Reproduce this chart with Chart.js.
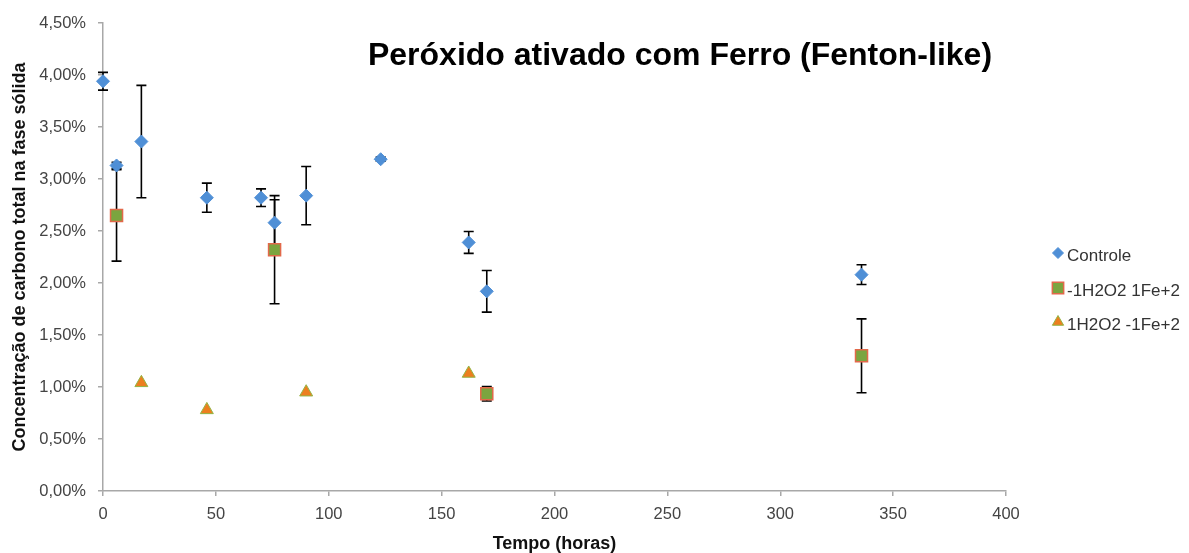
<!DOCTYPE html>
<html>
<head>
<meta charset="utf-8">
<title>Peróxido ativado com Ferro (Fenton-like)</title>
<script src="https://cdn.jsdelivr.net/npm/chart.js@4/dist/chart.umd.min.js"></script>
<style>
  html, body { margin: 0; padding: 0; background: #ffffff; }
  #wrap { width: 1189px; height: 553px; }
</style>
</head>
<body>
<div id="wrap"><canvas id="chart" width="1189" height="553"></canvas></div>
<script>
// Axis ticks
const xTickValues = [0, 50, 100, 150, 200, 250, 300, 350, 400];
const yTickValues = [0, 0.5, 1, 1.5, 2, 2.5, 3, 3.5, 4, 4.5];

// Controle
const controleHoras = [0, 6, 17, 46, 70, 76, 90, 123, 162, 170, 336];
const controleCarbono = [3.94, 3.13, 3.36, 2.82, 2.82, 2.58, 2.84, 3.19, 2.39, 1.92, 2.08];
const controleErro = [0.085, 0.03, 0.54, 0.14, 0.085, 0.22, 0.28, 0.02, 0.105, 0.20, 0.095];

// -1H2O2 1Fe+2
const ferroHoras = [6, 76, 170, 336];
const ferroCarbono = [2.65, 2.32, 0.935, 1.30];
const ferroErro = [0.44, 0.52, 0.07, 0.355];

// 1H2O2 -1Fe+2
const peroxidoHoras = [17, 46, 90, 162];
const peroxidoCarbono = [1.04, 0.78, 0.95, 1.13];

const FONT = '"Liberation Sans", Arial, Helvetica, sans-serif';

const pts = (xs, ys) => xs.map((x, i) => ({ x: x, y: ys[i] }));

// Vertical error bars with caps, drawn underneath the markers
const errorBars = {
  id: 'errorBars',
  beforeDatasetsDraw(chart) {
    const { ctx, scales: { x, y } } = chart;
    ctx.save();
    ctx.strokeStyle = '#000000';
    ctx.lineWidth = 1.6;
    chart.data.datasets.forEach(ds => {
      if (!ds.errors) return;
      ds.data.forEach((p, i) => {
        const e = ds.errors[i];
        if (!e) return;
        const px = x.getPixelForValue(p.x);
        const top = y.getPixelForValue(p.y + e);
        const bot = y.getPixelForValue(p.y - e);
        ctx.beginPath();
        ctx.moveTo(px, top); ctx.lineTo(px, bot);
        ctx.moveTo(px - 5, top); ctx.lineTo(px + 5, top);
        ctx.moveTo(px - 5, bot); ctx.lineTo(px + 5, bot);
        ctx.stroke();
      });
    });
    ctx.restore();
  }
};

// Chart title inside the plot area and the legend on the right
const decorations = {
  id: 'decorations',
  afterDraw(chart) {
    const ctx = chart.ctx;
    ctx.save();
    ctx.fillStyle = '#000000';
    ctx.font = 'bold 32px ' + FONT;
    ctx.textAlign = 'center';
    ctx.textBaseline = 'alphabetic';
    ctx.fillText('Peróxido ativado com Ferro (Fenton-like)', 680, 65);

    const rowY = [256, 291, 325];
    chart.data.datasets.forEach((ds, i) => {
      const y = rowY[i];
      ctx.fillStyle = ds.backgroundColor;
      ctx.strokeStyle = ds.borderColor;
      ctx.lineWidth = ds.borderWidth;
      Chart.helpers.drawPoint(ctx, {
        pointStyle: ds.pointStyle,
        radius: ds.legendRadius,
        borderWidth: ds.borderWidth,
        rotation: 0
      }, 1058, y - 3);
      ctx.fillStyle = '#333333';
      ctx.font = '17px ' + FONT;
      ctx.textAlign = 'left';
      ctx.textBaseline = 'middle';
      ctx.fillText(ds.label, 1067, y);
    });
    ctx.restore();
  }
};

const axisGray = '#a8a8a8';

new Chart(document.getElementById('chart'), {
  type: 'scatter',
  data: {
    datasets: [
      {
        label: 'Controle',
        data: pts(controleHoras, controleCarbono),
        errors: controleErro,
        pointStyle: 'rectRot',
        pointRadius: 6.5,
        legendRadius: 5.5,
        backgroundColor: '#4f8fd6',
        borderColor: '#4f8fd6',
        borderWidth: 1,
        clip: false
      },
      {
        label: '-1H2O2 1Fe+2',
        data: pts(ferroHoras, ferroCarbono),
        errors: ferroErro,
        pointStyle: 'rect',
        pointRadius: 8.5,
        legendRadius: 8,
        backgroundColor: '#7ba53f',
        borderColor: '#e2694a',
        borderWidth: 1.5,
        clip: false
      },
      {
        label: '1H2O2 -1Fe+2',
        data: pts(peroxidoHoras, peroxidoCarbono),
        pointStyle: 'triangle',
        pointRadius: 7.5,
        legendRadius: 6.5,
        backgroundColor: '#ec7f1f',
        borderColor: '#93b444',
        borderWidth: 1,
        clip: false
      }
    ]
  },
  options: {
    responsive: false,
    animation: false,
    devicePixelRatio: 1,
    events: [],
    layout: { padding: { top: 23, right: 183, left: 0, bottom: 0 } },
    plugins: {
      legend: { display: false },
      tooltip: { enabled: false },
      title: { display: false }
    },
    scales: {
      x: {
        type: 'linear',
        min: 0,
        max: 400,
        afterBuildTicks(scale) { scale.ticks = xTickValues.map(v => ({ value: v })); },
        afterFit(scale) { scale.height = 62; },
        grid: { drawOnChartArea: false, drawTicks: true, tickLength: 5, color: axisGray, lineWidth: 1.5 },
        border: { color: axisGray, width: 1.5 },
        ticks: {
          padding: 9, color: '#444444', autoSkip: false, maxRotation: 0,
          font: { size: 16.5, family: FONT }
        },
        title: {
          display: true,
          text: 'Tempo (horas)',
          color: '#111111',
          font: { size: 18, weight: 'bold', family: FONT, lineHeight: 1 },
          padding: { top: 0, bottom: 0 }
        }
      },
      y: {
        type: 'linear',
        min: 0,
        max: 4.5,
        afterBuildTicks(scale) { scale.ticks = yTickValues.map(v => ({ value: v })); },
        afterFit(scale) { scale.width = 103; },
        grid: { drawOnChartArea: false, drawTicks: true, tickLength: 5, color: axisGray, lineWidth: 1.5 },
        border: { color: axisGray, width: 1.5 },
        ticks: {
          padding: 12, color: '#444444', autoSkip: false,
          font: { size: 16.5, family: FONT },
          callback: v => v.toFixed(2).replace('.', ',') + '%'
        },
        title: {
          display: true,
          text: 'Concentração de carbono total na fase sólida',
          color: '#111111',
          font: { size: 18, weight: 'bold', family: FONT },
          padding: { top: 9, bottom: 0 }
        }
      }
    }
  },
  plugins: [errorBars, decorations]
});
</script>
</body>
</html>
